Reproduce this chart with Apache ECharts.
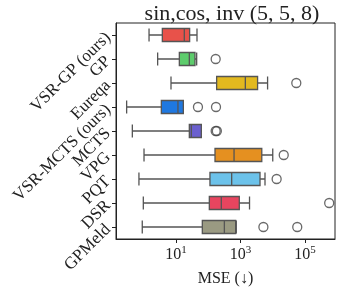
<!DOCTYPE html>
<html><head><meta charset="utf-8">
<script src="https://cdn.jsdelivr.net/npm/echarts@6/dist/echarts.min.js"></script>
<style>html,body{margin:0;padding:0;background:#fff}#c{width:340px;height:292px}</style>
</head><body><div id="c"></div>
<script>
var categories = ['VSR-GP (ours)','GP','Eureqa','VSR-MCTS (ours)','MCTS','VPG','PQT','DSR','GPMeld'];
// [lower whisker, Q1, median, Q3, upper whisker] of MSE
var boxStats = [
  [1.46, 3.77, 18.1, 26.5, 44.8],
  [2.7, 12.7, 25.9, 38.8, 43.8],
  [7.0, 182, 1413, 3388, 6918],
  [0.295, 3.51, 11.5, 16.9, 16.9],
  [0.443, 25.9, 29.9, 61, 61],
  [1.02, 162, 631, 4570, 10000],
  [0.71, 113, 533, 4030, 5750],
  [0.97, 108, 254, 918, 1905],
  [0.90, 65.5, 316, 708, 741]
];
var outliers = [
  [],
  [170],
  [53700],
  [48, 174],
  [170, 185],
  [21900],
  [13200],
  [562000],
  [5130, 57500]
];
var boxColors = ['#e8524a','#5dcc6c','#e2b91f','#1f78e0','#6a5fcf','#e59020','#6cc2ea','#e8455f','#9a9a82'];
var tickValues = [10, 1000, 100000];
var titleText = 'sin,cos, inv (5, 5, 8)';
var xName = 'MSE (\u2193)';

var serif = '"Liberation Serif", "DejaVu Serif", serif';
var boxData = boxStats.map(function(s, i){
  return {value: s, itemStyle: {color: boxColors[i], borderColor: '#555', borderWidth: 1.3}};
});
var outData = [];
outliers.forEach(function(arr, i){ arr.forEach(function(v){ outData.push([v, i]); }); });

var chart = echarts.init(document.getElementById('c'), null, {renderer: 'canvas'});
chart.setOption({
  animation: false,
  title: {text: titleText, left: 227, top: -2, textAlign: 'center',
    textStyle: {fontFamily: serif, fontSize: 22, fontWeight: 'normal', color: '#222'}},
  grid: {left: 116, top: 23, right: 5, bottom: 47, show: true, borderColor: '#222', borderWidth: 1},
  xAxis: {
    type: 'log', logBase: 10,
    min: Math.pow(10, -0.86), max: Math.pow(10, 5.93),
    name: xName, nameLocation: 'middle', nameGap: 32,
    nameTextStyle: {fontFamily: serif, fontSize: 16, color: '#222'},
    axisLine: {show: true, lineStyle: {color: '#222', width: 1}},
    axisTick: {show: true, length: 4, lineStyle: {color: '#222'}, customValues: tickValues},
    axisLabel: {customValues: tickValues, margin: 6, color: '#222',
      formatter: function(v){ return '{b|10}{s|' + Math.round(Math.log10(v)) + '}'; },
      rich: {b: {fontFamily: serif, fontSize: 16, color: '#222'},
             s: {fontFamily: serif, fontSize: 11, color: '#222', padding: [0,0,9,0]}}},
    splitLine: {show: false}, minorTick: {show: false}
  },
  yAxis: {
    type: 'category', data: categories, inverse: true,
    axisLine: {show: true, lineStyle: {color: '#222', width: 1}},
    axisTick: {show: true, length: 4, alignWithLabel: true, interval: 0, lineStyle: {color: '#222'}},
    axisLabel: {rotate: 45, interval: 0, hideOverlap: false, margin: 8, fontFamily: serif, fontSize: 17, color: '#222'},
    splitLine: {show: false}
  },
  series: [
    {type: 'boxplot', data: boxData, boxWidth: [13, 13], layout: 'horizontal'},
    {type: 'scatter', data: outData, symbol: 'circle', symbolSize: 9,
      itemStyle: {color: 'rgba(255,255,255,0)', borderColor: '#444', borderWidth: 1.3}}
  ]
});
</script></body></html>
